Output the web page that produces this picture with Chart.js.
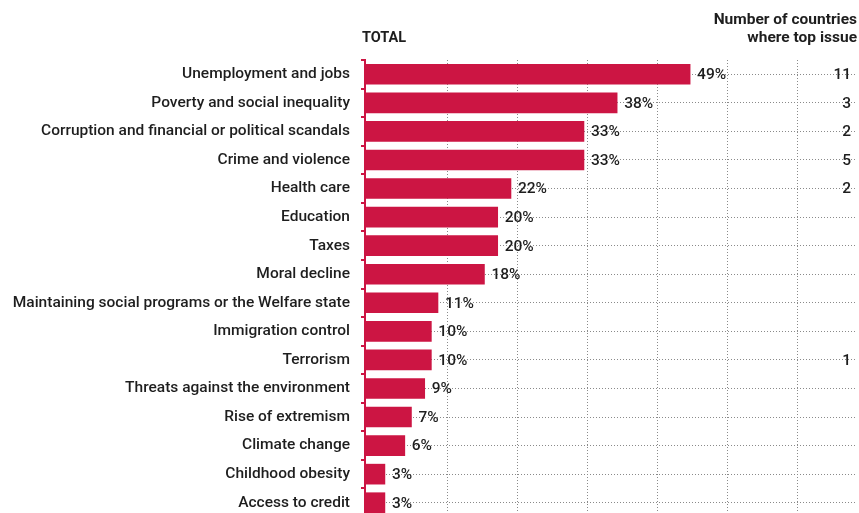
<!DOCTYPE html>
<html>
<head>
<meta charset="utf-8">
<script src="https://cdn.jsdelivr.net/npm/chart.js@4"></script>
<style>
  html, body { margin: 0; padding: 0; background: #fff; overflow: hidden; }
  #wrap { width: 859px; height: 517px; }
</style>
</head>
<body>
<div id="wrap"><canvas id="chart"></canvas></div>
<script>
const issues = [
  "Unemployment and jobs",
  "Poverty and social inequality",
  "Corruption and financial or political scandals",
  "Crime and violence",
  "Health care",
  "Education",
  "Taxes",
  "Moral decline",
  "Maintaining social programs or the Welfare state",
  "Immigration control",
  "Terrorism",
  "Threats against the environment",
  "Rise of extremism",
  "Climate change",
  "Childhood obesity",
  "Access to credit"
];
const totalShare = [49, 38, 33, 33, 22, 20, 20, 18, 11, 10, 10, 9, 7, 6, 3, 3];
const topIssueCountries = [11, 3, 2, 5, 2, null, null, null, null, null, 1, null, null, null, null, null];

const RED = "#cc1543";
const INK = "#1e1e1e";
const DOTS = "#8a8a8a";
const FONT = "Roboto, 'Liberation Sans', sans-serif";
const LABEL_FONT = "500 15.5px " + FONT;
const HEAD_FONT = "700 15.5px " + FONT;

// decorative vertical guides, in axis units
const GUIDE_START = 12.4;
const GUIDE_STEP = 10.55;

const annotations = {
  id: "annotations",
  afterDatasetsDraw(chart) {
    const { ctx, chartArea } = chart;
    const meta = chart.getDatasetMeta(0);
    ctx.save();
    ctx.fillStyle = INK;
    ctx.font = LABEL_FONT;
    ctx.textBaseline = "middle";

    // value labels at bar ends
    ctx.textAlign = "left";
    meta.data.forEach((bar, i) => {
      ctx.fillText(totalShare[i] + "%", bar.x + 7, bar.y + 1);
    });

    // country counts column
    ctx.textAlign = "right";
    meta.data.forEach((bar, i) => {
      if (topIssueCountries[i] != null) {
        ctx.fillText(String(topIssueCountries[i]), chartArea.right - 5, bar.y + 1);
      }
    });

    // headers
    ctx.font = "700 14.5px " + FONT;
    ctx.textAlign = "left";
    ctx.fillText("TOTAL", chartArea.left - 3, 38);
    ctx.font = HEAD_FONT;
    ctx.textAlign = "right";
    ctx.fillText("Number of countries", 857, 20);
    ctx.fillText("where top issue", 857, 38);
    ctx.restore();
  }
};

new Chart(document.getElementById("chart"), {
  type: "bar",
  data: {
    labels: issues,
    datasets: [{
      data: totalShare,
      backgroundColor: RED,
      barThickness: 20
    }]
  },
  options: {
    indexAxis: "y",
    responsive: true,
    maintainAspectRatio: false,
    animation: false,
    layout: { padding: { top: 60, right: 3, left: 0, bottom: 0 } },
    plugins: {
      legend: { display: false },
      tooltip: { enabled: false }
    },
    scales: {
      x: {
        min: 0,
        max: 74,
        ticks: { display: false },
        border: { display: false, dash: [1, 2] },
        afterBuildTicks(scale) {
          const ticks = [];
          for (let v = GUIDE_START; v < scale.max; v += GUIDE_STEP) ticks.push({ value: v });
          scale.ticks = ticks;
        },
        grid: {
          color: DOTS,
          lineWidth: 1,
          drawTicks: false,
          borderDash: [1, 2]
        },
        afterFit(scale) { scale.height = 0; }
      },
      y: {
        ticks: {
          color: INK,
          padding: 11,
          font: { family: FONT, size: 15.5, weight: "500" }
        },
        grid: {
          offset: true,
          drawOnChartArea: false,
          color: RED,
          lineWidth: 2,
          tickLength: 4
        },
        border: { color: RED, width: 2 },
        afterFit(scale) {
          scale.width = 365;
          scale.paddingTop = 0;
          scale.paddingBottom = 0;
        }
      },
      rows: {
        type: "category",
        position: "right",
        labels: issues,
        offset: true,
        ticks: { display: false },
        border: { display: false, dash: [1, 2] },
        grid: {
          offset: false,
          color: DOTS,
          lineWidth: 1,
          drawTicks: false,
          borderDash: [1, 2]
        },
        afterFit(scale) { scale.width = 0; }
      }
    }
  },
  plugins: [annotations]
});
</script>
</body>
</html>
